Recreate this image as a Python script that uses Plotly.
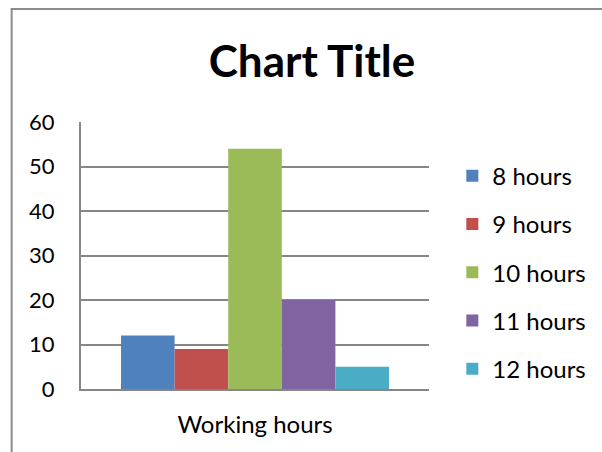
import plotly.graph_objects as go

category = ["Working hours"]
series_names = ["8 hours", "9 hours", "10 hours", "11 hours", "12 hours"]
series_values = [12, 9, 54, 20, 5]
colors = ["#4F81BD", "#C0504D", "#9BBB59", "#8064A2", "#4BACC6"]
y_ticks = [0, 10, 20, 30, 40, 50, 60]

W, H = 602, 452
L, R, T, B = 81, 428.7, 122.3, 388.7

fig = go.Figure()
for name, val, col in zip(series_names, series_values, colors):
    fig.add_trace(go.Bar(x=category, y=[val], name=name, marker_color=col,
                         marker_line_width=0, legendgroup=name))

font = "Lato, 'Open Sans', sans-serif"
pw, ph = R - L, B - T

def px(x):
    return (x - L) / pw

def py(y):
    return (B - y) / ph

fig.update_layout(
    width=W, height=H,
    margin=dict(l=L, r=W - R, t=T, b=H - B, autoexpand=False),
    paper_bgcolor="white", plot_bgcolor="white",
    barmode="group", bargap=0.23, bargroupgap=0,
    font=dict(family=font, size=21, color="black"),
    title=dict(text="<b>Chart Title</b>", x=312 / W, xanchor="center",
               y=1 - 62 / H, yanchor="middle",
               font=dict(family=font, size=44, color="black")),
    legend=dict(x=px(452), xanchor="left", y=py(154), yanchor="top",
                font=dict(family=font, size=24, color="black"),
                tracegroupgap=14, bgcolor="rgba(0,0,0,0)"),
    showlegend=True,
    shapes=[dict(type="rect", xref="paper", yref="paper",
                 x0=px(11.7), x1=px(620), y0=py(470), y1=py(9.5),
                 line=dict(color="#8C8C8C", width=2), layer="above")],
)
fig.update_yaxes(range=[0, 60], tickvals=y_ticks, showgrid=True,
                 gridcolor="#868686", gridwidth=2, showline=True,
                 linecolor="#868686", linewidth=2, zeroline=False,
                 ticks="", ticklabelstandoff=20, fixedrange=True,
                 tickfont=dict(size=22))
fig.update_xaxes(showline=True, linecolor="#868686", linewidth=2,
                 ticks="", ticklabelstandoff=13, fixedrange=True,
                 tickfont=dict(size=24))

fig.write_html("out.html")
